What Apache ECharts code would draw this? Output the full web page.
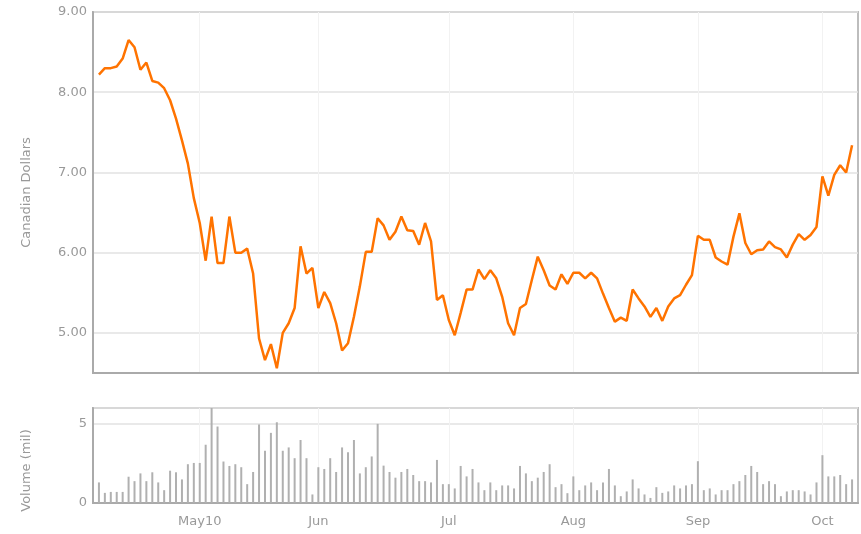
<!DOCTYPE html>
<html>
<head>
<meta charset="utf-8">
<title>Canadian Dollars / Volume</title>
<script src="https://cdn.jsdelivr.net/npm/echarts@6/dist/echarts.min.js"></script>
<style>
  html, body { margin: 0; padding: 0; background: #fff; }
  #container { width: 861px; height: 534px; }
</style>
</head>
<body>
<div id="container"></div>
<script>
// trading days: Apr 8 2010 .. Oct 8 2010 (TSX holidays skipped)
var startDate = '2010-04-08';
var dayCount = 128;
var holidays = ['2010-05-24', '2010-07-01', '2010-08-02', '2010-09-06'];

// month ticks (first trading day of each month)
var tickDates = ['2010-05-03', '2010-06-01', '2010-07-02', '2010-08-03', '2010-09-01', '2010-10-01'];
var tickLabels = ['May10', 'Jun', 'Jul', 'Aug', 'Sep', 'Oct'];

// closing price, CAD
var prices = [
  8.22, 8.30, 8.30, 8.32, 8.42, 8.65, 8.56, 8.28, 8.37, 8.14,
  8.12, 8.05, 7.90, 7.67, 7.40, 7.11, 6.68, 6.37, 5.90, 6.45,
  5.87, 5.87, 6.45, 6.00, 6.00, 6.05, 5.74, 4.93, 4.66, 4.86,
  4.56, 5.00, 5.12, 5.31, 6.08, 5.74, 5.81, 5.31, 5.51, 5.37,
  5.12, 4.78, 4.87, 5.20, 5.58, 6.01, 6.01, 6.43, 6.34, 6.16,
  6.26, 6.45, 6.28, 6.27, 6.10, 6.37, 6.14, 5.41, 5.47, 5.16,
  4.97, 5.25, 5.54, 5.54, 5.79, 5.67, 5.78, 5.68, 5.45, 5.12,
  4.97, 5.31, 5.36, 5.66, 5.95, 5.78, 5.59, 5.54, 5.73, 5.61,
  5.75, 5.75, 5.68, 5.75, 5.68, 5.49, 5.31, 5.14, 5.19, 5.15,
  5.54, 5.43, 5.33, 5.20, 5.31, 5.15, 5.33, 5.43, 5.47, 5.60,
  5.72, 6.21, 6.16, 6.16, 5.94, 5.89, 5.85, 6.20, 6.49, 6.12,
  5.98, 6.03, 6.04, 6.14, 6.07, 6.04, 5.94, 6.10, 6.23, 6.16,
  6.22, 6.32, 6.95, 6.71, 6.97, 7.09, 7.00, 7.34
];

// volume, millions
var volumes = [
  1.30, 0.64, 0.70, 0.70, 0.70, 1.66, 1.38, 1.87, 1.38, 1.94,
  1.30, 0.81, 2.04, 1.94, 1.49, 2.45, 2.53, 2.53, 3.68, 6.00,
  4.83, 2.62, 2.34, 2.45, 2.26, 1.19, 1.96, 4.96, 3.30, 4.43,
  5.10, 3.30, 3.51, 2.83, 3.98, 2.83, 0.54, 2.26, 2.15, 2.83,
  1.96, 3.51, 3.21, 3.98, 1.87, 2.26, 2.94, 5.00, 2.36, 1.96,
  1.60, 1.96, 2.15, 1.77, 1.38, 1.38, 1.30, 2.72, 1.19, 1.19,
  0.92, 2.34, 1.68, 2.15, 1.30, 0.81, 1.30, 0.81, 1.11, 1.11,
  0.92, 2.34, 1.87, 1.38, 1.60, 1.96, 2.45, 1.00, 1.19, 0.62,
  1.68, 0.81, 1.11, 1.30, 0.81, 1.30, 2.15, 1.11, 0.43, 0.73,
  1.49, 0.92, 0.54, 0.32, 1.00, 0.64, 0.73, 1.11, 0.92, 1.11,
  1.19, 2.64, 0.81, 0.92, 0.54, 0.81, 0.81, 1.19, 1.38, 1.77,
  2.34, 1.96, 1.19, 1.38, 1.19, 0.43, 0.73, 0.81, 0.81, 0.73,
  0.54, 1.30, 3.02, 1.68, 1.68, 1.77, 1.19, 1.49
];

function tradingDays(start, n) {
  var out = [];
  var d = new Date(start + 'T00:00:00Z');
  while (out.length < n) {
    var s = d.toISOString().slice(0, 10);
    var wd = d.getUTCDay();
    if (wd !== 0 && wd !== 6 && holidays.indexOf(s) < 0) out.push(s);
    d.setUTCDate(d.getUTCDate() + 1);
  }
  return out;
}

// one empty slot at each end so the first/last day sit a step inside the frame
var dates = [''].concat(tradingDays(startDate, dayCount), ['']);
var priceData = [null].concat(prices, [null]);
var volData = [null].concat(volumes, [null]);

function isTick(index, value) {
  return tickDates.indexOf(value) >= 0;
}

var labelFont = { color: '#999', fontSize: 13, fontFamily: 'DejaVu Sans' };
var gridColor = '#e2e2e2';
var vGridColor = '#f2f2f2';
var axisColor = '#aaa';

var myChart = echarts.init(document.getElementById('container'));

var option = {
  animation: false,
  grid: [
    { left: 93, right: 3, top: 12, height: 361, show: true, borderColor: '#bdbdbd', borderWidth: 2 },
    { left: 93, right: 3, top: 408, height: 95, show: true, borderColor: '#bdbdbd', borderWidth: 2 }
  ],
  xAxis: [
    {
      type: 'category', gridIndex: 0, data: dates, boundaryGap: false,
      axisLine: { lineStyle: { color: axisColor, width: 2 } },
      axisTick: { show: false },
      axisLabel: { show: false },
      splitLine: { show: true, interval: isTick, lineStyle: { color: vGridColor, width: 1 } }
    },
    {
      type: 'category', gridIndex: 1, data: dates, boundaryGap: false,
      axisLine: { lineStyle: { color: axisColor, width: 2 } },
      axisTick: { show: false },
      axisLabel: Object.assign({
        interval: isTick,
        margin: 12,
        formatter: function (v) {
          var k = tickDates.indexOf(v);
          return k >= 0 ? tickLabels[k] : '';
        }
      }, labelFont),
      splitLine: { show: true, interval: isTick, lineStyle: { color: vGridColor, width: 1 } }
    }
  ],
  yAxis: [
    {
      type: 'value', gridIndex: 0, min: 4.5, max: 9,
      name: 'Canadian Dollars', nameLocation: 'middle', nameGap: 60,
      nameTextStyle: labelFont,
      axisLine: { show: true, lineStyle: { color: axisColor, width: 2 } },
      axisTick: { show: false },
      axisLabel: Object.assign({
        margin: 6, showMinLabel: false,
        formatter: function (v) { return v.toFixed(2); }
      }, labelFont),
      splitLine: { lineStyle: { color: gridColor, width: 1.5 } }
    },
    {
      type: 'value', gridIndex: 1, min: 0, max: 6, interval: 5,
      name: 'Volume (mil)', nameLocation: 'middle', nameGap: 60,
      nameTextStyle: Object.assign({ padding: [0, 30, 0, 0] }, labelFont),
      axisLine: { show: true, lineStyle: { color: axisColor, width: 2 } },
      axisTick: { show: false },
      axisLabel: Object.assign({
        margin: 6, showMaxLabel: false,
        formatter: function (v) { return (v === 0 || v === 5) ? String(v) : ''; }
      }, labelFont),
      splitLine: { lineStyle: { color: gridColor, width: 1.5 } }
    }
  ],
  series: [
    {
      name: 'Price', type: 'line', xAxisIndex: 0, yAxisIndex: 0,
      data: priceData, showSymbol: false, connectNulls: false,
      lineStyle: { color: '#ff7300', width: 2.5 },
      itemStyle: { color: '#ff7300' }
    },
    {
      name: 'Volume', type: 'bar', xAxisIndex: 1, yAxisIndex: 1,
      data: volData, barWidth: 2,
      itemStyle: { color: '#b0b0b0' }
    }
  ]
};

myChart.setOption(option);
</script>
</body>
</html>
